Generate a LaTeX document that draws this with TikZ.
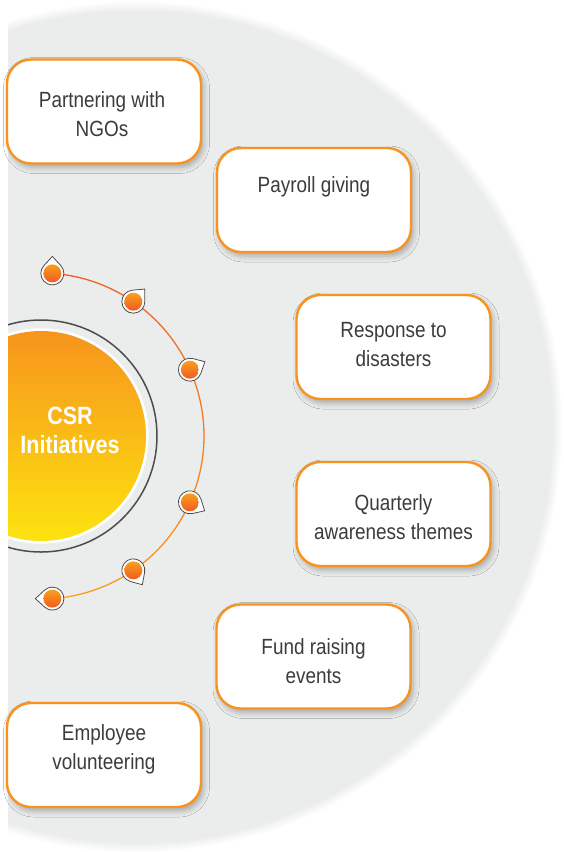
\documentclass[tikz,border=0pt]{standalone}
\usepackage{fontspec}
\newfontfamily\boxfont{Liberation Sans}[FakeStretch=0.86]
\newfontfamily\csrfont{Liberation Sans}[FakeStretch=0.86]
\usetikzlibrary{shadows.blur,calc}
\definecolor{bggrey}{HTML}{EBECEC}
\definecolor{boxorange}{HTML}{F7931E}
\definecolor{txtgrey}{HTML}{3C3C3C}
\definecolor{ringgrey}{HTML}{4D4D4D}
\definecolor{discTop}{HTML}{F7941D}
\definecolor{discBot}{HTML}{FDE30F}
\definecolor{arcTop}{HTML}{F15A29}
\definecolor{arcBot}{HTML}{F7A21B}
\definecolor{dotA}{HTML}{F9A01B}
\definecolor{dotB}{HTML}{F15A24}
\newcommand\drawpin[3]{%
  \coordinate (#1) at ($(c)+(#2:163)$);
  \filldraw[fill=white, draw=ringgrey, line width=0.8pt]
    ($(#1)+(#3:17)$) -- ($(#1)+(#3+47:11.5)$)
    arc[start angle=#3+47, end angle=#3+313, radius=11.5] -- cycle;
  \shade[top color=dotA, bottom color=dotB] (#1) circle (9);
}
\begin{document}
\begin{tikzpicture}[x=1pt,y=-1pt,
  initbox/.style={draw=boxorange, line width=2.4pt, fill=white,
    rounded corners=24pt, minimum width=194pt, minimum height=104pt,
    inner sep=0pt,
    blur shadow={shadow xshift=2.5pt, shadow yshift=-4pt,
      shadow blur radius=6pt, shadow opacity=30}},
  boxtext/.style={align=center, font=\boxfont\fontsize{22}{29}\selectfont,
    text=txtgrey, inner sep=0pt},
  csrtext/.style={text=white, align=center,
    font=\csrfont\bfseries\fontsize{25}{29}\selectfont}
]
\useasboundingbox (0,0) rectangle (564,852);
\fill[white] (0,0) rectangle (564,852);
\coordinate (c) at (41,436);
\begin{scope}
  \clip (8,0) rectangle (564,852);
  \foreach \i in {0,...,10} {
    \fill[bggrey!\i0!white] (137,427) circle ({426-\i});
  }
  \shade[top color=discTop, bottom color=discBot] (c) circle (105);
  \draw[white, line width=2.5pt] (c) circle (106.5);
  \draw[ringgrey, line width=1.5pt] (c) circle (116);
  \foreach \k in {0,...,15} {
    \pgfmathsetmacro\a{-86+\k*172/16}
    \pgfmathsetmacro\b{-86+(\k+1)*172/16}
    \pgfmathsetmacro\p{100-\k*100/15}
    \draw[arcTop!\p!arcBot, line width=1.3pt, line cap=round]
      ($(c)+(\a:163)$) arc[start angle=\a, end angle=\b, radius=163];
  }
  \drawpin{p1}{-86}{-90}
  \drawpin{p2}{-55.5}{-48}
  \drawpin{p3}{-24}{-28}
  \drawpin{p4}{24}{30}
  \drawpin{p5}{55.5}{58}
  \drawpin{p6}{86}{180}
  \node[csrtext] (csr) at (70,430) {CSR\\Initiatives};
\end{scope}
\node[initbox] (b1) at (104,111.5) {};
\node[initbox] (b2) at (314,200) {};
\node[initbox] (b3) at (393.5,347) {};
\node[initbox] (b4) at (393.5,514) {};
\node[initbox] (b5) at (313.5,656.5) {};
\node[initbox] (b6) at (104,755) {};
\node[boxtext] (t1) at ($(b1)+(-2,3)$) {Partnering with\\NGOs};
\node[boxtext] (t2) at ($(b2)+(0,-13)$) {Payroll giving};
\node[boxtext] (t3) at ($(b3)+(0,-2)$) {Response to\\disasters};
\node[boxtext] (t4) at ($(b4)+(0,3)$) {Quarterly\\awareness themes};
\node[boxtext] (t5) at ($(b5)+(0,5)$) {Fund raising\\events};
\node[boxtext] (t6) at ($(b6)+(0,-6)$) {Employee\\volunteering};
\end{tikzpicture}
\end{document}
